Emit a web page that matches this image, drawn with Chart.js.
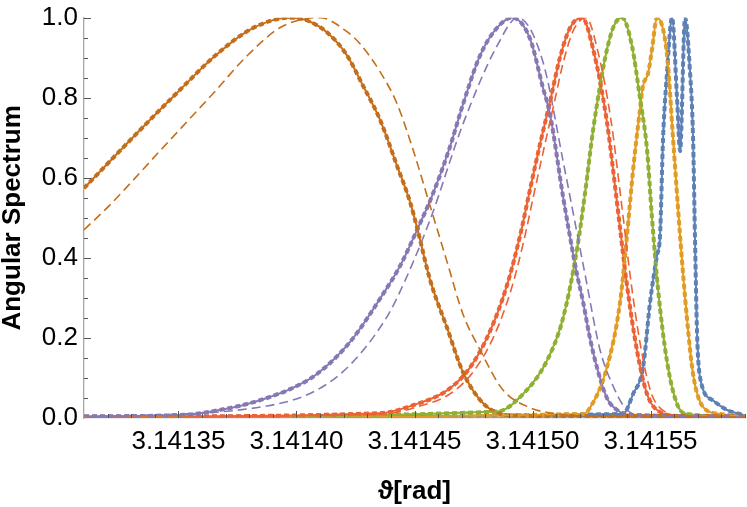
<!DOCTYPE html>
<html>
<head>
<meta charset="utf-8">
<script src="https://cdn.jsdelivr.net/npm/chart.js@4.4.1/dist/chart.umd.min.js"></script>
<style>
  html, body { margin: 0; padding: 0; background: #fff; }
</style>
</head>
<body>
<canvas id="myChart" width="747" height="507"></canvas>
<script>
// x tick labels / y tick labels
let xTicks = [3.14135, 3.14140, 3.14145, 3.14150, 3.14155];
let yTicks = [0, 0.2, 0.4, 0.6, 0.8, 1.0];

// brown (6th) group
let brownX = [3.1413100, 3.1413240, 3.1413380, 3.1413507, 3.1413646, 3.1413791, 3.1413901, 3.1413973, 3.1414045, 3.1414130, 3.1414214, 3.1414282, 3.1414354, 3.1414426, 3.1414481, 3.1414511, 3.1414566, 3.1414638, 3.1414705, 3.1414778, 3.1414850, 3.1414934, 3.1415116, 3.1415900];
let brownY = [0.574, 0.660, 0.745, 0.820, 0.900, 0.966, 0.994, 1.000, 0.993, 0.963, 0.906, 0.830, 0.745, 0.630, 0.540, 0.475, 0.345, 0.225, 0.115, 0.045, 0.013, 0.006, 0.005, 0.005];
let brownDashX = [3.1413100, 3.1413206, 3.1413426, 3.1413591, 3.1413646, 3.1413791, 3.1413930, 3.1414045, 3.1414100, 3.1414214, 3.1414269, 3.1414354, 3.1414426, 3.1414494, 3.1414566, 3.1414638, 3.1414705, 3.1414778, 3.1414875, 3.1414989, 3.1415104, 3.1415286, 3.1415900];
let brownDashY = [0.470, 0.530, 0.670, 0.775, 0.810, 0.905, 0.975, 0.998, 1.000, 0.965, 0.935, 0.865, 0.785, 0.670, 0.530, 0.390, 0.260, 0.170, 0.070, 0.026, 0.010, 0.004, 0.002];

// purple (5th)
let purpleX = [3.1413100, 3.1413524, 3.1413735, 3.1413803, 3.1413875, 3.1413973, 3.1414087, 3.1414227, 3.1414367, 3.1414439, 3.1414511, 3.1414578, 3.1414650, 3.1414705, 3.1414778, 3.1414850, 3.1414913, 3.1414989, 3.1415044, 3.1415074, 3.1415129, 3.1415188, 3.1415214, 3.1415243, 3.1415273, 3.1415315, 3.1415358, 3.1415413, 3.1415900];
let purpleY = [0.004, 0.008, 0.027, 0.037, 0.050, 0.072, 0.110, 0.190, 0.310, 0.380, 0.470, 0.560, 0.677, 0.783, 0.906, 0.975, 1.000, 0.948, 0.825, 0.759, 0.554, 0.360, 0.290, 0.200, 0.126, 0.050, 0.020, 0.008, 0.004];
let purpleDashX = [3.1413100, 3.1413875, 3.1414087, 3.1414231, 3.1414371, 3.1414426, 3.1414566, 3.1414705, 3.1414850, 3.1414938, 3.1415044, 3.1415129, 3.1415222, 3.1415286, 3.1415341, 3.1415400, 3.1415476, 3.1415900];
let purpleDashY = [0.002, 0.030, 0.070, 0.135, 0.241, 0.300, 0.495, 0.734, 0.930, 1.000, 0.890, 0.643, 0.360, 0.170, 0.080, 0.020, 0.006, 0.002];

// red (4th)
let redX = [3.1413100, 3.1414354, 3.1414494, 3.1414638, 3.1414735, 3.1414820, 3.1414892, 3.1414947, 3.1414989, 3.1415032, 3.1415074, 3.1415116, 3.1415159, 3.1415210, 3.1415256, 3.1415315, 3.1415358, 3.1415400, 3.1415443, 3.1415485, 3.1415540, 3.1415625, 3.1415900];
let redY = [0.003, 0.012, 0.032, 0.069, 0.126, 0.217, 0.332, 0.455, 0.570, 0.685, 0.790, 0.900, 0.975, 1.000, 0.923, 0.740, 0.537, 0.332, 0.167, 0.060, 0.015, 0.005, 0.003];
let redDashX = [3.1413100, 3.1414371, 3.1414511, 3.1414655, 3.1414752, 3.1414837, 3.1414909, 3.1414964, 3.1415006, 3.1415049, 3.1415091, 3.1415133, 3.1415176, 3.1415227, 3.1415273, 3.1415332, 3.1415375, 3.1415417, 3.1415460, 3.1415502, 3.1415557, 3.1415642, 3.1415900];
let redDashY = [0.002, 0.010, 0.028, 0.062, 0.118, 0.205, 0.320, 0.445, 0.560, 0.675, 0.785, 0.895, 0.972, 1.000, 0.925, 0.745, 0.545, 0.340, 0.172, 0.064, 0.017, 0.005, 0.002];

// green (3rd)
let greenX = [3.1413100, 3.1414850, 3.1414960, 3.1415061, 3.1415129, 3.1415188, 3.1415222, 3.1415256, 3.1415286, 3.1415315, 3.1415345, 3.1415379, 3.1415421, 3.1415455, 3.1415485, 3.1415506, 3.1415532, 3.1415570, 3.1415612, 3.1415654, 3.1415900];
let greenY = [0.002, 0.016, 0.060, 0.143, 0.249, 0.420, 0.560, 0.717, 0.830, 0.920, 0.980, 1.000, 0.930, 0.800, 0.670, 0.500, 0.320, 0.140, 0.035, 0.010, 0.003];

// orange (2nd)
let orangeX = [3.1413100, 3.1415214, 3.1415243, 3.1415315, 3.1415371, 3.1415400, 3.1415426, 3.1415455, 3.1415468, 3.1415489, 3.1415506, 3.1415527, 3.1415570, 3.1415595, 3.1415625, 3.1415654, 3.1415680, 3.1415722, 3.1415794, 3.1415900];
let orangeY = [0.002, 0.010, 0.025, 0.126, 0.290, 0.455, 0.620, 0.770, 0.830, 0.860, 0.920, 1.000, 0.906, 0.700, 0.455, 0.250, 0.110, 0.028, 0.010, 0.004];

// blue (1st)
let blueX = [3.1413100, 3.1415383, 3.1415426, 3.1415468, 3.1415498, 3.1415527, 3.1415540, 3.1415553, 3.1415570, 3.1415591, 3.1415612, 3.1415625, 3.1415646, 3.1415667, 3.1415680, 3.1415688, 3.1415697, 3.1415710, 3.1415764, 3.1415824, 3.1415892];
let blueY = [0.003, 0.010, 0.060, 0.126, 0.290, 0.406, 0.455, 0.700, 0.865, 1.000, 0.800, 0.667, 1.000, 0.865, 0.700, 0.455, 0.210, 0.100, 0.044, 0.020, 0.008];

let colors = ['#5E81B5', '#E19C24', '#8FB032', '#EB6235', '#8778B3', '#C56E1A'];

let fontFamily = '"Liberation Sans", Arial, sans-serif';

function pts(xs, ys) {
    return xs.map((x, i) => ({ x: x, y: ys[i] }));
}

let solids = [[blueX, blueY], [orangeX, orangeY], [greenX, greenY], [redX, redY], [purpleX, purpleY], [brownX, brownY]];
let dashes = [[blueX, blueY], [orangeX, orangeY], [greenX, greenY], [redDashX, redDashY], [purpleDashX, purpleDashY], [brownDashX, brownDashY]];

// bottom to top
let layers = [];
solids.forEach((s, i) => layers.push({ data: pts(s[0], s[1]), borderColor: colors[i], borderWidth: 2 }));
solids.forEach((s, i) => layers.push({ data: pts(s[0], s[1]), borderColor: colors[i], borderWidth: 4, borderDash: [5, 3] }));
dashes.forEach((s, i) => layers.push({ data: pts(s[0], s[1]), borderColor: colors[i], borderWidth: 1.6, borderDash: [9, 5] }));
layers.forEach((l, i) => { l.order = layers.length - i; l.fill = false; });

// Mathematica style ticks pointing inwards
const innerTicks = {
    id: 'innerTicks',
    afterDatasetsDraw(chart) {
        const { ctx, chartArea: a, scales: { x, y } } = chart;
        ctx.save();
        ctx.strokeStyle = '#555';
        ctx.lineWidth = 1;
        ctx.beginPath();
        for (let i = 1; i <= 28; i++) {
            let v = 3.14131 + i * 0.00001;
            let px = Math.round(x.getPixelForValue(v)) + 0.5;
            let major = xTicks.some(t => Math.abs(t - v) < 1e-9);
            ctx.moveTo(px, a.bottom);
            ctx.lineTo(px, a.bottom - (major ? 7 : 4));
        }
        for (let i = 1; i <= 20; i++) {
            let v = i * 0.05;
            let py = Math.round(y.getPixelForValue(v)) + 0.5;
            let major = i % 4 === 0;
            ctx.moveTo(a.left, py);
            ctx.lineTo(a.left + (major ? 7 : 4), py);
        }
        ctx.stroke();
        ctx.restore();
    }
};

let myChart = document.getElementById('myChart').getContext('2d');

let chart = new Chart(myChart, {
    type: 'line',
    data: { datasets: layers },
    plugins: [innerTicks],
    options: {
        responsive: false,
        animation: false,
        layout: { padding: { top: 12, right: 2, left: 0, bottom: 0 } },
        plugins: {
            legend: { display: false },
            tooltip: { enabled: false }
        },
        elements: {
            point: { radius: 0 },
            line: { cubicInterpolationMode: 'monotone', borderCapStyle: 'butt' }
        },
        scales: {
            x: {
                type: 'linear',
                min: 3.14131,
                max: 3.14159,
                afterBuildTicks: s => { s.ticks = xTicks.map(v => ({ value: v })); },
                afterFit: s => { s.height = 89; },
                grid: { display: false, drawTicks: false },
                border: { display: true, color: '#a6a6a6', width: 1.3 },
                ticks: {
                    padding: 8,
                    color: '#000',
                    maxRotation: 0,
                    autoSkip: false,
                    font: { family: fontFamily, size: 26 },
                    callback: v => v.toFixed(5)
                },
                title: {
                    display: true,
                    text: 'ϑ[rad]',
                    color: '#000',
                    font: { family: fontFamily, size: 26, weight: 'bold' },
                    padding: { top: 0, bottom: 0 }
                }
            },
            y: {
                min: 0,
                max: 1,
                afterBuildTicks: s => { s.ticks = yTicks.map(v => ({ value: v })); },
                afterFit: s => { s.width = 84; },
                grid: { display: false, drawTicks: false },
                border: { display: true, color: '#a6a6a6', width: 1.3 },
                ticks: {
                    padding: 6,
                    color: '#000',
                    font: { family: fontFamily, size: 26, lineHeight: 0.9 },
                    callback: v => v.toFixed(1)
                },
                title: {
                    display: true,
                    text: 'Angular Spectrum',
                    color: '#000',
                    font: { family: fontFamily, size: 26, weight: 'bold', lineHeight: 1 },
                    padding: { top: 0, bottom: 0 }
                }
            }
        }
    }
});
</script>
</body>
</html>
